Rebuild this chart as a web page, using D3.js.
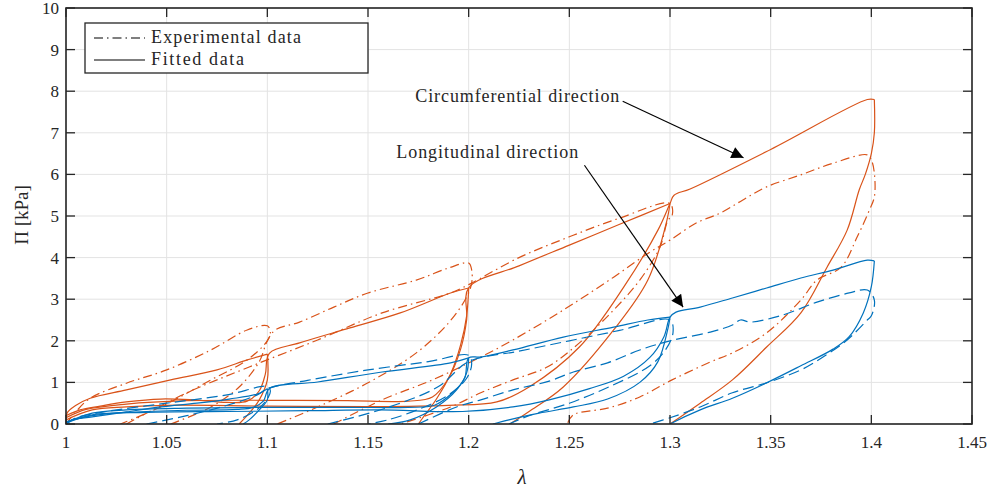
<!DOCTYPE html>
<html><head><meta charset="utf-8">
<script src="https://cdn.jsdelivr.net/npm/d3@7"></script>
<style>
body{margin:0;background:#fff}
svg{display:block}
</style>
</head><body>
<svg id="c" width="989" height="492" font-family="'Liberation Serif', 'Times New Roman', 'DejaVu Serif', serif"></svg>
<script>
// ---------- tick labels ----------
const xTicks = [1, 1.05, 1.1, 1.15, 1.2, 1.25, 1.3, 1.35, 1.4, 1.45];
const xTickLabels = ["1", "1.05", "1.1", "1.15", "1.2", "1.25", "1.3", "1.35", "1.4", "1.45"];
const yTicks = [0, 1, 2, 3, 4, 5, 6, 7, 8, 9, 10];

// ---------- circumferential (orange) fitted, [lambda, Pi kPa] ----------
const circFit1 = [[1,0],[1.0005,0.26],[1.005,0.45],[1.012,0.62],[1.03,0.82],[1.052,1.06],[1.075,1.3],[1.09,1.54],[1.1,1.68]];
const circFitUn1 = [[1.1,1.68],[1.1,1.06],[1.096,0.58],[1.091,0.26],[1.086,0]];
const circFit2 = [[1,0.2],[1.007,0.34],[1.017,0.43],[1.03,0.53],[1.047,0.6],[1.063,0.58],[1.08,0.52],[1.09,0.55],[1.096,0.8],[1.099,1.2],[1.101,1.7],[1.116,1.95],[1.141,2.31],[1.166,2.67],[1.191,3.15],[1.2,3.27]];
const circFitUn2 = [[1.2,3.27],[1.199,2.6],[1.196,1.9],[1.191,1.2],[1.184,0.6],[1.178,0.2],[1.175,0]];
const circFit3 = [[1,0.15],[1.01,0.35],[1.03,0.48],[1.06,0.56],[1.1,0.57],[1.14,0.56],[1.17,0.55],[1.182,0.65],[1.19,1.1],[1.196,1.8],[1.199,2.5],[1.2,3.27],[1.225,3.8],[1.25,4.3],[1.275,4.8],[1.3,5.3]];
const circFitUn3 = [[1.3,5.3],[1.2985,4.9],[1.289,3.46],[1.272,2.26],[1.247,0.89],[1.23,0.3],[1.2205,0]];
const circFit4 = [[1,0.1],[1.013,0.34],[1.03,0.41],[1.05,0.45],[1.1,0.43],[1.15,0.42],[1.19,0.45],[1.214,0.53],[1.23,0.89],[1.255,1.85],[1.277,3.29],[1.294,4.66],[1.3,5.3],[1.302,5.5],[1.31,5.65],[1.35,6.6],[1.398,7.8],[1.4015,7.8]];
const circFitUn4 = [[1.4015,7.8],[1.4015,7.0],[1.4,6.5],[1.397,6.0],[1.394,5.63],[1.388,4.66],[1.378,3.77],[1.365,2.67],[1.348,1.85],[1.331,1.06],[1.315,0.5],[1.3,0]];

// ---------- circumferential (orange) experimental ----------
const circExp1 = [[1,0],[1.005,0.3],[1.012,0.62],[1.03,0.98],[1.05,1.3],[1.072,1.78],[1.09,2.26],[1.1,2.36],[1.1015,2.2],[1.1,2.0],[1.09,1.54],[1.072,1.06],[1.047,0.41],[1.027,0]];
const circExp2 = [[1.052,0],[1.072,0.41],[1.086,0.89],[1.096,1.5],[1.1,2.0],[1.104,2.26],[1.116,2.45],[1.133,2.81],[1.15,3.15],[1.174,3.46],[1.19,3.75],[1.2,3.87],[1.2015,3.7],[1.2015,3.39],[1.199,3.05],[1.19,2.43],[1.174,1.71],[1.15,0.99],[1.125,0.41],[1.105,0]];
const circExp3 = [[1.03,0],[1.06,0.75],[1.091,1.37],[1.125,2.02],[1.157,2.67],[1.191,3.15],[1.2,3.35],[1.225,4.0],[1.25,4.5],[1.275,4.95],[1.3,5.3],[1.301,5.0],[1.299,4.9],[1.295,4.25],[1.285,3.46],[1.272,2.74],[1.255,1.95],[1.239,1.37],[1.222,1.06],[1.206,0.75],[1.191,0.41],[1.166,0]];
const circExp4 = [[1.133,0],[1.157,0.58],[1.182,1.06],[1.206,1.61],[1.222,2.02],[1.247,2.74],[1.272,3.53],[1.289,4.1],[1.3,4.42],[1.313,4.83],[1.325,5.07],[1.336,5.38],[1.348,5.7],[1.365,5.99],[1.381,6.27],[1.398,6.47],[1.4,6.35],[1.4015,6.03],[1.4015,5.46],[1.399,5.14],[1.393,4.5],[1.385,3.77],[1.373,3.46],[1.365,2.98],[1.348,2.19],[1.331,1.71],[1.32,1.49],[1.301,1.06],[1.285,0.65],[1.269,0.38],[1.252,0.22],[1.249,0]];

// ---------- longitudinal (blue) fitted ----------
const longFit1 = [[1,0],[1.003,0.1],[1.013,0.17],[1.03,0.29],[1.047,0.41],[1.065,0.5],[1.081,0.6],[1.095,0.72],[1.1,0.85]];
const longFitUn1 = [[1.1,0.85],[1.1,0.58],[1.096,0.34],[1.091,0.1],[1.088,0]];
const longFit2 = [[1,0.05],[1.013,0.2],[1.03,0.28],[1.06,0.33],[1.085,0.35],[1.093,0.4],[1.098,0.55],[1.101,0.85],[1.125,1.01],[1.157,1.25],[1.191,1.47],[1.2,1.59]];
const longFitUn2 = [[1.2,1.59],[1.199,1.23],[1.194,0.82],[1.184,0.41],[1.171,0.1],[1.16,0]];
const longFit3 = [[1,0.03],[1.013,0.26],[1.03,0.34],[1.06,0.38],[1.1,0.4],[1.14,0.4],[1.17,0.4],[1.183,0.45],[1.192,0.75],[1.198,1.1],[1.2,1.59],[1.206,1.61],[1.222,1.78],[1.247,2.09],[1.272,2.33],[1.289,2.5],[1.3,2.57]];
const longFitUn3 = [[1.3,2.57],[1.299,2.3],[1.294,1.5],[1.285,1.0],[1.269,0.6],[1.252,0.41],[1.235,0.26],[1.22,0.1],[1.212,0]];
const longFit4 = [[1,0.02],[1.013,0.22],[1.04,0.28],[1.08,0.3],[1.12,0.32],[1.156,0.34],[1.197,0.3],[1.222,0.41],[1.24,0.58],[1.26,0.85],[1.277,1.15],[1.29,1.6],[1.297,2.1],[1.3,2.57],[1.303,2.69],[1.315,2.81],[1.331,3.03],[1.348,3.27],[1.365,3.51],[1.381,3.7],[1.398,3.94],[1.4015,3.92]];
const longFitUn4 = [[1.4015,3.92],[1.4,3.3],[1.396,2.67],[1.389,2.1],[1.381,1.8],[1.365,1.4],[1.348,0.99],[1.331,0.62],[1.315,0.34],[1.3,0]];

// ---------- longitudinal (blue) experimental ----------
const longExp1 = [[1,0],[1.005,0.15],[1.02,0.3],[1.05,0.5],[1.08,0.7],[1.1,0.9],[1.1015,0.8],[1.1,0.6],[1.095,0.35],[1.085,0.1],[1.075,0]];
const longExp2 = [[1.04,0],[1.06,0.2],[1.08,0.45],[1.095,0.7],[1.1,0.85],[1.12,1.05],[1.15,1.3],[1.18,1.5],[1.2,1.65],[1.2015,1.45],[1.199,1.1],[1.19,0.7],[1.175,0.35],[1.16,0.1],[1.15,0]];
const longExp3 = [[1.13,0],[1.16,0.4],[1.185,0.9],[1.2,1.5],[1.225,1.75],[1.25,2.0],[1.275,2.25],[1.3,2.5],[1.3015,2.2],[1.298,1.8],[1.29,1.4],[1.27,0.9],[1.25,0.5],[1.23,0.2],[1.22,0]];
const longExp4 = [[1.175,0],[1.194,0.41],[1.206,0.58],[1.222,0.82],[1.24,1.03],[1.252,1.25],[1.269,1.47],[1.285,1.78],[1.3,2.0],[1.32,2.21],[1.331,2.38],[1.335,2.5],[1.34,2.45],[1.356,2.62],[1.373,2.93],[1.389,3.15],[1.398,3.22],[1.4015,2.98],[1.4,2.6],[1.398,2.5],[1.388,2.02],[1.376,1.61],[1.365,1.3],[1.348,0.99],[1.331,0.75],[1.315,0.41],[1.3,0.15],[1.29,0]];

// ---------- texts ----------
const legendLabels = ["Experimental data", "Fitted data"];
const annotations = [
  {text: "Circumferential direction", tx: 1.1735, ty: 7.75, from: [1.2765, 7.76], to: [1.3365, 6.4]},
  {text: "Longitudinal direction", tx: 1.164, ty: 6.4, from: [1.2575, 6.22], to: [1.3065, 2.81]}
];

// ---------- drawing ----------
const FONT = "'Liberation Serif', 'Times New Roman', 'DejaVu Serif', serif";
const TXT = "#262626";
const ORANGE = "#D95319", BLUE = "#0072BD";
const svg = d3.select("#c");
const x = d3.scaleLinear().domain([1, 1.45]).range([66, 972]);
const y = d3.scaleLinear().domain([0, 10]).range([424, 8]);
const X0 = x.range()[0], X1 = x.range()[1], Y0 = y.range()[0], Y1 = y.range()[1];

// grid
const g = svg.append("g");
g.selectAll(".gx").data(xTicks).join("line")
  .attr("x1", d => x(d)).attr("x2", d => x(d)).attr("y1", Y1).attr("y2", Y0)
  .attr("stroke", "#e3e3e3").attr("stroke-width", 1);
g.selectAll(".gy").data(yTicks).join("line")
  .attr("y1", d => y(d)).attr("y2", d => y(d)).attr("x1", X0).attr("x2", X1)
  .attr("stroke", "#e3e3e3").attr("stroke-width", 1);

// curves
const line = d3.line().x(d => x(d[0])).y(d => y(d[1])).curve(d3.curveCatmullRom.alpha(0.5));
const DASHDOT = "9,4,1.5,4", DASHED = "11,5";
const series = [
  {d: circExp1, c: ORANGE, s: DASHDOT}, {d: circExp2, c: ORANGE, s: DASHDOT},
  {d: circExp3, c: ORANGE, s: DASHDOT}, {d: circExp4, c: ORANGE, s: DASHDOT},
  {d: circFit1, c: ORANGE, s: null}, {d: circFitUn1, c: ORANGE, s: null},
  {d: circFit2, c: ORANGE, s: null}, {d: circFitUn2, c: ORANGE, s: null},
  {d: circFit3, c: ORANGE, s: null}, {d: circFitUn3, c: ORANGE, s: null},
  {d: circFit4, c: ORANGE, s: null}, {d: circFitUn4, c: ORANGE, s: null},
  {d: longExp1, c: BLUE, s: DASHED}, {d: longExp2, c: BLUE, s: DASHED},
  {d: longExp3, c: BLUE, s: DASHED}, {d: longExp4, c: BLUE, s: DASHED},
  {d: longFit1, c: BLUE, s: null}, {d: longFitUn1, c: BLUE, s: null},
  {d: longFit2, c: BLUE, s: null}, {d: longFitUn2, c: BLUE, s: null},
  {d: longFit3, c: BLUE, s: null}, {d: longFitUn3, c: BLUE, s: null},
  {d: longFit4, c: BLUE, s: null}, {d: longFitUn4, c: BLUE, s: null}
];
svg.append("clipPath").attr("id", "pc").append("rect")
  .attr("x", X0).attr("y", Y1).attr("width", X1 - X0).attr("height", Y0 - Y1);
svg.append("g").attr("clip-path", "url(#pc)").selectAll("path").data(series).join("path")
  .attr("d", s => line(s.d)).attr("fill", "none").attr("stroke", s => s.c)
  .attr("stroke-width", 1.2).attr("stroke-dasharray", s => s.s);

// axes box & ticks
const ax = svg.append("g").attr("stroke", "#262626");
ax.append("rect").attr("x", X0).attr("y", Y1).attr("width", X1 - X0).attr("height", Y0 - Y1)
  .attr("fill", "none").attr("stroke-width", 1.6);
const TL = 9;
ax.selectAll(".tb").data(xTicks).join("line").attr("x1", d => x(d)).attr("x2", d => x(d))
  .attr("y1", Y0).attr("y2", Y0 - TL).attr("stroke-width", 1.3);
ax.selectAll(".tt").data(xTicks).join("line").attr("x1", d => x(d)).attr("x2", d => x(d))
  .attr("y1", Y1).attr("y2", Y1 + TL).attr("stroke-width", 1.3);
ax.selectAll(".tl").data(yTicks).join("line").attr("y1", d => y(d)).attr("y2", d => y(d))
  .attr("x1", X0).attr("x2", X0 + TL).attr("stroke-width", 1.3);
ax.selectAll(".tr").data(yTicks).join("line").attr("y1", d => y(d)).attr("y2", d => y(d))
  .attr("x1", X1).attr("x2", X1 - TL).attr("stroke-width", 1.3);

// tick labels
svg.selectAll(".xl").data(xTicks).join("text").attr("x", d => x(d)).attr("y", 448)
  .attr("font-family", FONT).attr("fill", TXT)
  .attr("text-anchor", "middle").attr("font-size", 17).text((d, i) => xTickLabels[i]);
svg.selectAll(".yl").data(yTicks).join("text").attr("x", 59).attr("y", d => y(d) + 6)
  .attr("font-family", FONT).attr("fill", TXT)
  .attr("text-anchor", "end").attr("font-size", 17).text(d => d);

// axis labels
svg.append("text").attr("x", 522).attr("y", 484).attr("text-anchor", "middle")
  .attr("font-family", FONT).attr("fill", TXT)
  .attr("font-size", 21).attr("font-style", "italic").text("λ");
svg.append("text").attr("transform", "translate(28,215) rotate(-90)").attr("text-anchor", "middle")
  .attr("font-family", FONT).attr("fill", TXT)
  .attr("font-size", 19).text("Π [kPa]");

// legend
const lg = svg.append("g");
lg.append("rect").attr("x", 85).attr("y", 23).attr("width", 283).attr("height", 50)
  .attr("fill", "#fff").attr("stroke", "#262626").attr("stroke-width", 1.3);
const legendRows = [{lab: legendLabels[0], s: DASHDOT, yy: 38}, {lab: legendLabels[1], s: null, yy: 60}];
legendRows.forEach(r => {
  lg.append("line").attr("x1", 94).attr("x2", 145).attr("y1", r.yy).attr("y2", r.yy)
    .attr("stroke", "#000").attr("stroke-width", 1.2).attr("stroke-dasharray", r.s);
  lg.append("text").attr("x", 151).attr("y", r.yy + 5).attr("font-size", 18)
    .attr("font-family", FONT).attr("fill", TXT)
    .attr("textLength", r.lab === legendLabels[0] ? 150 : 93).text(r.lab);
});

// annotations with arrows
svg.append("defs").append("marker").attr("id", "ah").attr("viewBox", "0 0 10 10")
  .attr("refX", 10).attr("refY", 5).attr("markerWidth", 18).attr("markerHeight", 12)
  .attr("markerUnits", "userSpaceOnUse").attr("orient", "auto")
  .append("path").attr("d", "M0,0 L10,5 L0,10 Z").attr("fill", "#000");
annotations.forEach((a, i) => {
  svg.append("text").attr("x", x(a.tx)).attr("y", y(a.ty)).attr("font-size", 18)
    .attr("font-family", FONT).attr("fill", TXT)
    .attr("textLength", i === 0 ? 204 : 182).text(a.text);
  svg.append("line").attr("x1", x(a.from[0])).attr("y1", y(a.from[1]))
    .attr("x2", x(a.to[0])).attr("y2", y(a.to[1]))
    .attr("stroke", "#000").attr("stroke-width", 1.2).attr("marker-end", "url(#ah)");
});
</script>
</body></html>
